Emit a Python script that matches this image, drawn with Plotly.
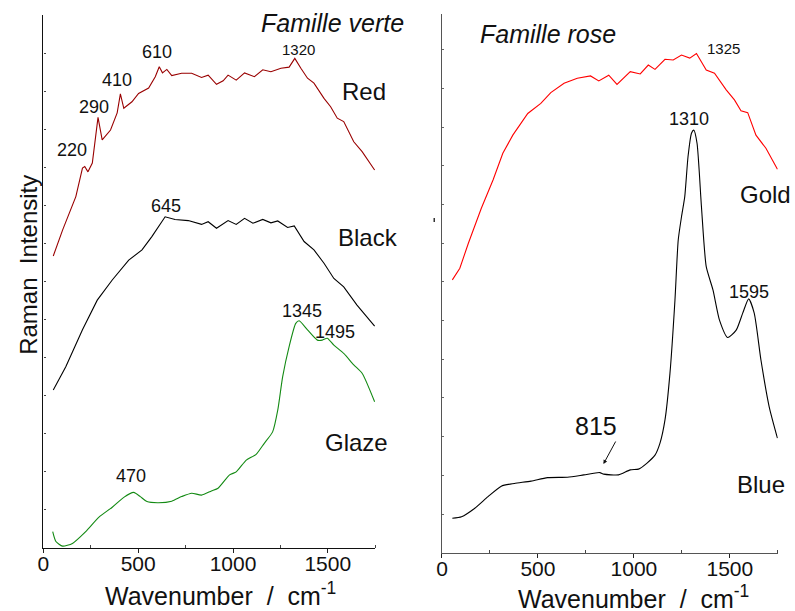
import plotly.graph_objects as go

W, H = 795, 611

# --- Famille verte (left panel) ---
red_wn = [52, 101, 171, 206, 218, 235, 258, 288, 310, 354, 389, 406, 424, 467, 502, 555, 590, 611,
          628, 651, 677, 729, 782, 834, 869, 913, 948, 974, 1017, 1061, 1113, 1157, 1200, 1253, 1296,
          1326, 1358, 1393, 1427, 1480, 1515, 1550, 1584, 1637, 1681, 1747]
red_int = [7.67, 8.35, 9.23, 9.98, 10.02, 9.88, 10.11, 11.31, 10.72, 10.98, 11.43, 11.93, 11.55, 11.72,
           11.94, 12.08, 12.38, 12.64, 12.48, 12.57, 12.41, 12.47, 12.47, 12.36, 12.42, 12.18, 12.27,
           12.42, 12.29, 12.48, 12.38, 12.56, 12.51, 12.60, 12.63, 12.86, 12.60, 12.34, 12.21, 11.81,
           11.59, 11.29, 11.20, 10.67, 10.41, 9.93]

black_wn = [52, 118, 206, 284, 363, 450, 520, 572, 642, 694, 764, 834, 869, 913, 974, 1017, 1061, 1105,
            1157, 1200, 1236, 1288, 1323, 1375, 1427, 1480, 1532, 1584, 1654, 1747]
black_int = [4.15, 4.76, 5.73, 6.51, 7.04, 7.56, 7.83, 8.18, 8.70, 8.63, 8.60, 8.50, 8.57, 8.40, 8.60,
             8.50, 8.66, 8.53, 8.63, 8.54, 8.59, 8.42, 8.46, 8.05, 7.83, 7.48, 7.08, 6.86, 6.38, 5.83]

glaze_wn = [49, 66, 101, 153, 223, 293, 363, 424, 476, 511, 546, 607, 677, 729, 782, 834, 886, 921, 982,
            1017, 1070, 1122, 1165, 1209, 1236, 1262, 1296, 1331, 1349, 1393, 1445, 1471, 1497, 1532,
            1584, 1637, 1681, 1747]
glaze_int = [0.43, 0.17, 0.05, 0.12, 0.43, 0.81, 1.07, 1.33, 1.46, 1.35, 1.22, 1.19, 1.23, 1.35, 1.44,
             1.39, 1.50, 1.57, 1.92, 2.00, 2.31, 2.46, 2.75, 3.05, 3.62, 4.50, 5.29, 5.90, 5.97, 5.73,
             5.46, 5.46, 5.51, 5.33, 5.11, 4.81, 4.59, 3.84]

# --- Famille rose (right panel) ---
gold_wn = [54, 93, 137, 205, 266, 317, 369, 447, 515, 567, 636, 705, 774, 817, 869, 912, 981, 1033, 1075,
           1110, 1162, 1205, 1248, 1291, 1326, 1377, 1420, 1481, 1524, 1558, 1593, 1636, 1688, 1748]
gold_int = [7.05, 7.35, 7.99, 8.90, 9.63, 10.32, 10.79, 11.35, 11.61, 11.89, 12.13, 12.26, 12.32, 12.19,
            12.34, 12.10, 12.43, 12.37, 12.60, 12.49, 12.75, 12.73, 12.86, 12.78, 12.90, 12.47, 12.39,
            11.96, 11.70, 11.42, 11.37, 10.79, 10.45, 9.91]

blue_wn = [54, 102, 171, 240, 309, 377, 464, 550, 654, 739, 822, 843, 920, 981, 1024, 1067, 1110, 1136,
           1162, 1188, 1214, 1231, 1248, 1265, 1282, 1300, 1312, 1329, 1352, 1377, 1412, 1446, 1489,
           1533, 1567, 1598, 1627, 1662, 1705, 1748]
blue_int = [0.89, 0.93, 1.15, 1.45, 1.72, 1.79, 1.85, 1.94, 1.95, 2.01, 2.07, 2.03, 2.01, 2.14, 2.16,
            2.31, 2.52, 2.83, 3.43, 4.64, 6.53, 8.08, 8.68, 9.20, 10.23, 10.84, 10.92, 10.58, 8.94,
            7.39, 6.79, 6.01, 5.56, 5.75, 6.19, 6.56, 6.19, 4.98, 3.77, 2.96]

FONT = "Arial, Liberation Sans, sans-serif"


def pp(x, y):
    # pixel position -> paper coordinates
    return x / W, 1 - y / H


fig = go.Figure()
fig.add_trace(go.Scatter(x=red_wn, y=red_int, mode="lines", line=dict(color="#990000", width=1.1),
                         xaxis="x", yaxis="y"))
fig.add_trace(go.Scatter(x=black_wn, y=black_int, mode="lines", line=dict(color="black", width=1.1),
                         xaxis="x", yaxis="y"))
fig.add_trace(go.Scatter(x=glaze_wn, y=glaze_int, mode="lines",
                         line=dict(color="#138a13", width=1.1, shape="spline", smoothing=0.6),
                         xaxis="x", yaxis="y"))
fig.add_trace(go.Scatter(x=gold_wn, y=gold_int, mode="lines", line=dict(color="#ff0000", width=1.1),
                         xaxis="x2", yaxis="y2"))
fig.add_trace(go.Scatter(x=blue_wn, y=blue_int, mode="lines",
                         line=dict(color="black", width=1.1, shape="spline", smoothing=0.6),
                         xaxis="x2", yaxis="y2"))

xcommon = dict(range=[0, 1750], tickvals=[0, 500, 1000, 1500], ticks="outside", ticklen=4,
               tickcolor="#222", showline=True, linewidth=1.3, showgrid=False, zeroline=False,
               ticklabelstandoff=-7,
               tickfont=dict(family=FONT, size=21, color="#111"),
               minor=dict(tickvals=[250, 750, 1250, 1750], ticks="inside", ticklen=3, tickcolor="#444"))
ycommon = dict(showticklabels=False, ticks="inside", dtick=1, ticklen=2, showline=True,
               linewidth=1.3, showgrid=False, zeroline=False)

annotations = []


def note(text, x, y, size, italic=False):
    px_, py_ = pp(x, y)
    if italic:
        text = "<i>" + text + "</i>"
    annotations.append(dict(text=text, x=px_, y=py_, xref="paper", yref="paper", showarrow=False,
                            xanchor="center", yanchor="middle",
                            font=dict(family=FONT, size=size, color="#111")))


note("Famille verte", 329, 23, 25, italic=True)
note("Famille rose", 546, 34, 25, italic=True)
note("Red", 361, 92, 24)
note("Black", 365, 237, 24)
note("Glaze", 353, 442, 24)
note("Gold", 765, 194, 24)
note("Blue", 761, 484, 24)
note("220", 66, 150, 18)
note("290", 89, 107, 18)
note("410", 112, 80, 18)
note("610", 152, 52, 18)
note("1320", 295, 50, 15)
note("645", 161, 206, 18)
note("1345", 298, 311, 18)
note("1495", 331, 332, 18)
note("470", 126, 476, 18)
note("1310", 688, 119, 18)
note("1325", 723, 48, 15)
note("1595", 749, 292, 18)
note("815", 594, 426, 25)
note("Wavenumber  /  cm<sup>-1</sup>", 216, 594, 25)
note("Wavenumber  /  cm<sup>-1</sup>", 632, 597, 25)

rx, ry = pp(22, 265)
annotations.append(dict(text="Raman  Intensity", x=rx, y=ry, xref="paper", yref="paper",
                        showarrow=False, textangle=-90, xanchor="center", yanchor="middle",
                        font=dict(family=FONT, size=24, color="#111")))

# arrow pointing to the 815 band (tail offset given in pixels)
hx, hy = pp(602, 464)
annotations.append(dict(x=hx, y=hy, ax=13, ay=-24, xref="paper", yref="paper", axref="pixel",
                        ayref="pixel", text="", showarrow=True, arrowhead=2, arrowsize=0.8,
                        arrowwidth=1, arrowcolor="#111"))

sx, sy0 = pp(431.5, 218)
_, sy1 = pp(431.5, 222)

fig.update_layout(
    width=W, height=H,
    margin=dict(l=0, r=0, t=0, b=0),
    paper_bgcolor="white", plot_bgcolor="white",
    showlegend=False,
    xaxis=dict(domain=[37.7 / W, 372 / W], anchor="y", linecolor="#111", **xcommon),
    yaxis=dict(domain=[1 - 548 / H, 1 - 15 / H], range=[0, 14], anchor="x", linecolor="#111",
               tickcolor="#444", **ycommon),
    xaxis2=dict(domain=[439.3 / W, 777.7 / W], anchor="y2", linecolor="#555", **xcommon),
    yaxis2=dict(domain=[1 - 552.7 / H, 1 - 14 / H], range=[0, 13.92], anchor="x2", linecolor="#555",
                tickcolor="#666", **ycommon),
    annotations=annotations,
    shapes=[dict(type="line", xref="paper", yref="paper", x0=sx, x1=sx, y0=sy0, y1=sy1,
                 line=dict(color="#333", width=1.5))],
)

# drop the default page margin so the 795x611 figure fills the window exactly
fig.write_html("out.html", config={"displayModeBar": False},
               post_script="document.body.style.margin='0';document.body.style.overflow='hidden';")
